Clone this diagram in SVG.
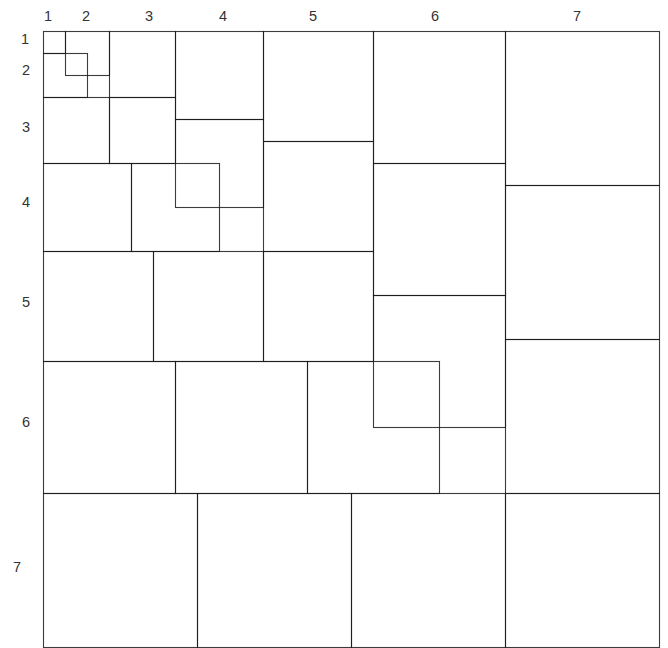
<svg xmlns="http://www.w3.org/2000/svg" width="668" height="648" viewBox="0 0 668 648">
<style>
.sq{fill:none;stroke:#1a1a1a;stroke-opacity:0.85;stroke-width:1.1}
.lbl{font-family:"Liberation Sans",Arial,sans-serif;font-size:14.5px;fill:#333;text-anchor:middle}
</style>
<rect x="0" y="0" width="668" height="648" fill="#fff"/>
<g id="col-labels" class="lbl">
<text x="48" y="21">1</text>
<text x="86" y="21">2</text>
<text x="149" y="21">3</text>
<text x="223" y="21">4</text>
<text x="313" y="21">5</text>
<text x="435" y="21">6</text>
<text x="577" y="21">7</text>
</g>
<g id="row-labels" class="lbl">
<text x="25" y="44">1</text>
<text x="26" y="75">2</text>
<text x="26" y="132">3</text>
<text x="26" y="207">4</text>
<text x="26" y="307">5</text>
<text x="26" y="427">6</text>
<text x="17" y="572">7</text>
</g>
<g id="squares-1"><g id="s1a"><rect class="sq" x="43.5" y="31.5" width="22" height="22"/></g></g>
<g id="squares-2">
<g id="s2a"><rect class="sq" x="65.5" y="31.5" width="44" height="44"/></g>
<g id="s2b"><rect class="sq" x="43.5" y="53.5" width="44" height="44"/></g>
</g>
<g id="squares-3">
<g id="s3a"><rect class="sq" x="109.5" y="31.5" width="66" height="66"/></g>
<g id="s3b"><rect class="sq" x="43.5" y="97.5" width="66" height="66"/></g>
<g id="s3c"><rect class="sq" x="109.5" y="97.5" width="66" height="66"/></g>
</g>
<g id="squares-4">
<g id="s4a"><rect class="sq" x="175.5" y="31.5" width="88" height="88"/></g>
<g id="s4b"><rect class="sq" x="175.5" y="119.5" width="88" height="88"/></g>
<g id="s4c"><rect class="sq" x="43.5" y="163.5" width="88" height="88"/></g>
<g id="s4d"><rect class="sq" x="131.5" y="163.5" width="88" height="88"/></g>
</g>
<g id="squares-5">
<g id="s5a"><rect class="sq" x="263.5" y="31.5" width="110" height="110"/></g>
<g id="s5b"><rect class="sq" x="263.5" y="141.5" width="110" height="110"/></g>
<g id="s5c"><rect class="sq" x="43.5" y="251.5" width="110" height="110"/></g>
<g id="s5d"><rect class="sq" x="153.5" y="251.5" width="110" height="110"/></g>
<g id="s5e"><rect class="sq" x="263.5" y="251.5" width="110" height="110"/></g>
</g>
<g id="squares-6">
<g id="s6a"><rect class="sq" x="373.5" y="31.5" width="132" height="132"/></g>
<g id="s6b"><rect class="sq" x="373.5" y="163.5" width="132" height="132"/></g>
<g id="s6c"><rect class="sq" x="373.5" y="295.5" width="132" height="132"/></g>
<g id="s6d"><rect class="sq" x="43.5" y="361.5" width="132" height="132"/></g>
<g id="s6e"><rect class="sq" x="175.5" y="361.5" width="132" height="132"/></g>
<g id="s6f"><rect class="sq" x="307.5" y="361.5" width="132" height="132"/></g>
</g>
<g id="squares-7">
<g id="s7a"><rect class="sq" x="505.5" y="31.5" width="154" height="154"/></g>
<g id="s7b"><rect class="sq" x="505.5" y="185.5" width="154" height="154"/></g>
<g id="s7c"><rect class="sq" x="505.5" y="339.5" width="154" height="154"/></g>
<g id="s7d"><rect class="sq" x="43.5" y="493.5" width="154" height="154"/></g>
<g id="s7e"><rect class="sq" x="197.5" y="493.5" width="154" height="154"/></g>
<g id="s7f"><rect class="sq" x="351.5" y="493.5" width="154" height="154"/></g>
<g id="s7g"><rect class="sq" x="505.5" y="493.5" width="154" height="154"/></g>
</g>
</svg>
